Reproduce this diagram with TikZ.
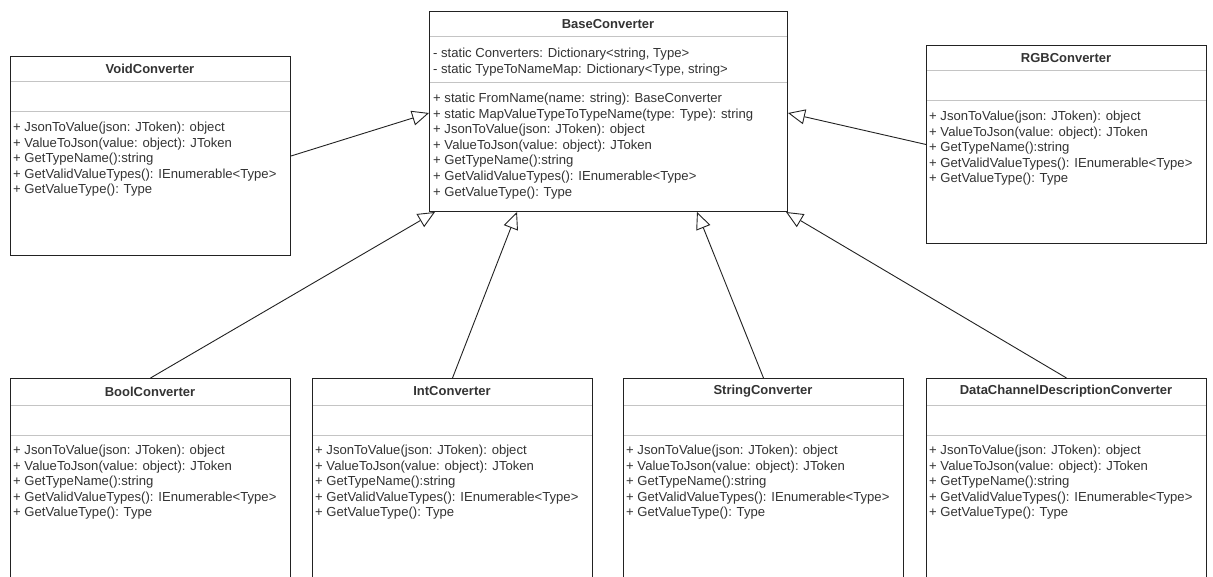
\documentclass[tikz,border=0pt]{standalone}
\usepackage{fontspec}
\setmainfont{Liberation Sans}
\usetikzlibrary{arrows.meta,calc}
\definecolor{txt}{HTML}{333333}
\definecolor{sepc}{HTML}{C4C4C4}
\definecolor{edgec}{HTML}{222222}
\tikzset{
  classbox/.style={draw=edgec, line width=1pt, fill=none, inner sep=0pt, rectangle},
  sepline/.style={draw=sepc, line width=1pt},
  titletext/.style={text=txt, font=\fontsize{13}{15}\selectfont\bfseries, inner sep=0pt},
  membertext/.style={text=txt, font=\fontsize{13.1}{15}\selectfont, inner sep=0pt},
  inherit/.style={draw=edgec, line width=0.9pt, -{Triangle[fill=white, length=17pt, width=15pt]}},
}
% #1 name, #2 left, #3 top, #4 width, #5 height, #6 title, #7 sep1 y, #8 sep2 y
\newcommand\umlclassbox[8]{%
  \draw[sepline] (#2,#7) -- ++(#4,0);
  \draw[sepline] (#2,#8) -- ++(#4,0);
  \node[classbox, minimum width=#4pt, minimum height=#5pt, anchor=north west] (#1) at (#2,#3) {};
  \node[titletext] (#1-title) at ($(#2,#3)!0.5!(#2,#7)+(#4/2,0)$) {#6};
}
% #1 prefix, #2 x, #3 first baseline y, #4 list
\newcommand\umlmembers[4]{%
  \foreach \t [count=\i] in {#4} {
    \node[membertext, anchor=base west] (#1-\i) at (#2, #3+15.6*\i-15.6) {\t};
  }
}
\newcommand\stdmethods[3]{%
  \umlmembers{#1}{#2}{#3}{{+ JsonToValue(json: JToken): object},{+ ValueToJson(value: object): JToken},{+ GetTypeName():string},{+ GetValidValueTypes(): IEnumerable<Type>},{+ GetValueType(): Type}}
}
\begin{document}
\begin{tikzpicture}[x=1pt,y=-1pt]
\useasboundingbox (0,0) rectangle (1213,577);
\clip (0,0) rectangle (1213,577);
\fill[white] (0,0) rectangle (1213,577);

% BaseConverter
\umlclassbox{base}{429}{11}{358}{200}{BaseConverter}{37}{83}
\umlmembers{base-a}{433}{57.5}{{- static Converters: Dictionary<string, Type>},{- static TypeToNameMap: Dictionary<Type, string>}}
\umlmembers{base-m}{433}{102.5}{{+ static FromName(name: string): BaseConverter},{+ static MapValueTypeToTypeName(type: Type): string},{+ JsonToValue(json: JToken): object},{+ ValueToJson(value: object): JToken},{+ GetTypeName():string},{+ GetValidValueTypes(): IEnumerable<Type>},{+ GetValueType(): Type}}

% VoidConverter
\umlclassbox{void}{10}{56}{280}{199}{VoidConverter}{82}{112}
\stdmethods{void-m}{13}{131.5}

% RGBConverter
\umlclassbox{rgb}{926}{45}{280}{198}{RGBConverter}{71}{101}
\stdmethods{rgb-m}{929}{120.5}

% bottom row
\umlclassbox{bool}{10}{378}{280}{230}{BoolConverter}{405}{435}
\stdmethods{bool-m}{13}{454.5}
\umlclassbox{int}{312}{378}{280}{230}{IntConverter}{405}{435}
\stdmethods{int-m}{315}{454.5}
\umlclassbox{str}{623}{378}{280}{230}{StringConverter}{405}{435}
\stdmethods{str-m}{626}{454.5}
\umlclassbox{dcd}{926}{378}{280}{230}{DataChannelDescriptionConverter}{405}{435}
\stdmethods{dcd-m}{929}{454.5}

% attachment points on BaseConverter
\coordinate (bt-void) at ($(base.north west)+(0,102)$);
\coordinate (bt-rgb)  at ($(base.north east)+(0,102)$);
\coordinate (bt-bool) at ($(base.south west)+(6,0)$);
\coordinate (bt-int)  at ($(base.south west)+(88,0)$);
\coordinate (bt-str)  at ($(base.south west)+(268,0)$);
\coordinate (bt-dcd)  at ($(base.south east)+(-2,0)$);

\draw[inherit] (void.east) -- (bt-void);
\draw[inherit] (rgb.west) -- (bt-rgb);
\draw[inherit] (bool.north) -- (bt-bool);
\draw[inherit] (int.north) -- (bt-int);
\draw[inherit] (str.north) -- (bt-str);
\draw[inherit] (dcd.north) -- (bt-dcd);
\end{tikzpicture}
\end{document}
